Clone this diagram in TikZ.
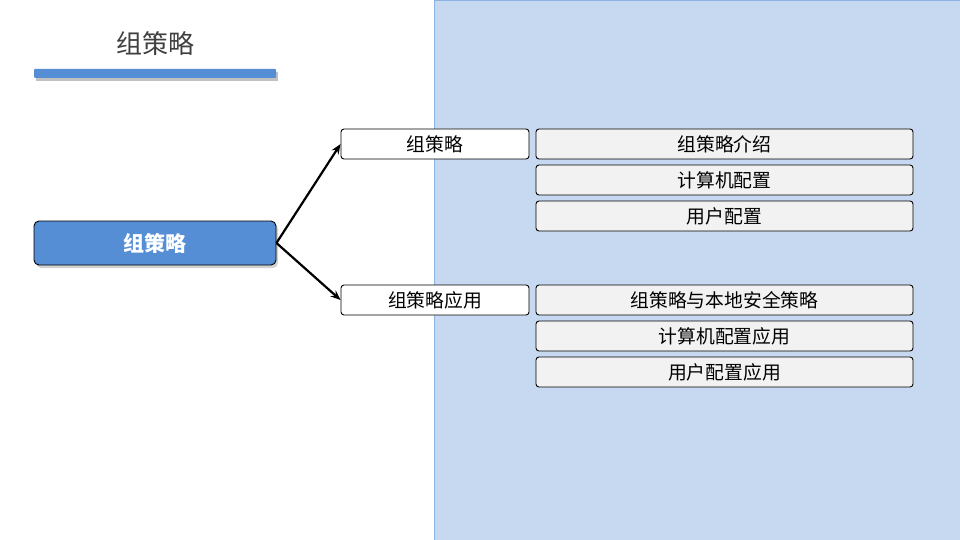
\documentclass[tikz,border=0pt]{standalone}
\usepackage{fontspec}
\newfontfamily\cjk{Noto Sans CJK SC}
\usetikzlibrary{arrows.meta,shadows}
\definecolor{panelfill}{HTML}{C6D9F1}
\definecolor{panelline}{HTML}{8DB3E2}
\definecolor{mainblue}{HTML}{558ED5}
\definecolor{boxgray}{HTML}{F2F2F2}
\definecolor{titlegray}{HTML}{404040}
\tikzset{
  lvtwo/.style={draw=black, fill=white, rounded corners=3pt, line width=0.9pt, minimum width=188pt, minimum height=30pt, inner sep=0pt, font=\cjk\fontsize{18.8}{20}\selectfont},
  lvthree/.style={draw=black, fill=boxgray, rounded corners=3pt, line width=0.9pt, minimum width=377pt, minimum height=30pt, inner sep=0pt, font=\cjk\fontsize{18.8}{20}\selectfont},
  conn/.style={-{Stealth[length=10pt,width=8pt]}, line width=2.2pt}
}
\begin{document}
\begin{tikzpicture}[x=1pt,y=-1pt]
\useasboundingbox (0,0) rectangle (960,540);
\fill[white] (0,0) rectangle (960,540);
% panel
\draw[fill=panelfill, draw=panelline, line width=1pt] (434.5,0.5) rectangle (960,540);
% title
\node[text=titlegray, font=\cjk\fontsize{26}{28}\selectfont] (title) at (155,44) {组策略};
\fill[black!40, opacity=0.6] (36,72) rectangle (278,81);
\fill[mainblue, rounded corners=1pt] (34,69) rectangle (276,78);
% main node
\node[draw=black, fill=mainblue, rounded corners=5pt, line width=0.9pt, minimum width=242pt, minimum height=44pt, inner sep=0pt, text=white, font=\cjk\bfseries\fontsize{21}{22}\selectfont, drop shadow={shadow xshift=2pt, shadow yshift=-3pt, opacity=0.35}] (main) at (155,243) {组策略};
% level 2
\node[lvtwo] (a) at (435,144) {组策略};
\node[lvtwo] (b) at (435,300) {组策略应用};
% level 3
\node[lvthree] (a1) at (724.5,144) {组策略介绍};
\node[lvthree] (a2) at (724.5,180) {计算机配置};
\node[lvthree] (a3) at (724.5,216) {用户配置};
\node[lvthree] (b1) at (724.5,300) {组策略与本地安全策略};
\node[lvthree] (b2) at (724.5,336) {计算机配置应用};
\node[lvthree] (b3) at (724.5,372) {用户配置应用};
% connectors
\draw[conn] (main.east) -- (a.west);
\draw[conn] (main.east) -- (b.west);
\end{tikzpicture}
\end{document}
